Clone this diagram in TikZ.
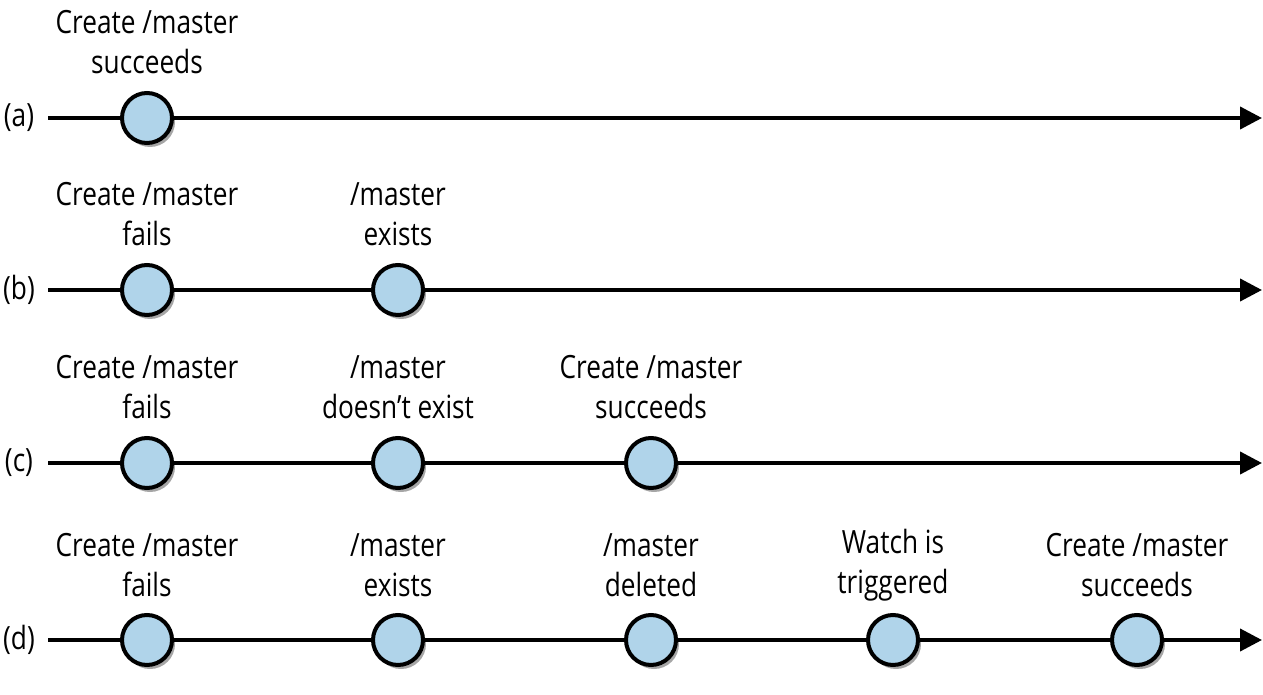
\documentclass[tikz,border=0pt]{standalone}
\usepackage{fontspec}
\setmainfont[FakeStretch=0.82]{Open Sans}
\usetikzlibrary{arrows.meta,shadows}
\definecolor{evfill}{HTML}{B0D4EA}
\tikzset{
  timeline/.style={line width=4pt,-{Triangle[length=22pt,width=22pt]}},
  event/.style={circle,draw=black,line width=4pt,fill=evfill,minimum size=50pt,inner sep=0pt,
    drop shadow={shadow xshift=3pt,shadow yshift=-4pt,opacity=0.35,fill=black}},
  evlabel/.style={align=center,font=\fontsize{32}{40}\selectfont,inner sep=0pt},
  rowlabel/.style={font=\fontsize{32}{40}\selectfont,inner sep=0pt},
}
\begin{document}
\begin{tikzpicture}[x=1pt,y=-1pt]
\useasboundingbox (0,0) rectangle (1263,695);
% rows
\foreach \r/\y in {a/118,b/290,c/463,d/640}{
  \node[rowlabel] (lab\r) at (19,\y) {(\r)};
  \coordinate (s\r) at (48,\y);
  \coordinate (e\r) at (1262,\y);
  \draw[timeline] (s\r) -- (e\r);
}
% row a
\node[event] (a1) at (147,118) {};
\node[evlabel] (ta1) at (147,42) {Create /master\\succeeds};
% row b
\node[event] (b1) at (147,290) {};
\node[event] (b2) at (398,290) {};
\node[evlabel] (tb1) at (147,214) {Create /master\\fails};
\node[evlabel] (tb2) at (398,214) {/master\\exists};
% row c
\node[event] (c1) at (147,463) {};
\node[event] (c2) at (398,463) {};
\node[event] (c3) at (651,463) {};
\node[evlabel] (tc1) at (147,387) {Create /master\\fails};
\node[evlabel] (tc2) at (398,387) {/master\\doesn’t exist};
\node[evlabel] (tc3) at (651,387) {Create /master\\succeeds};
% row d
\node[event] (d1) at (147,640) {};
\node[event] (d2) at (398,640) {};
\node[event] (d3) at (651,640) {};
\node[event] (d4) at (893,640) {};
\node[event] (d5) at (1137,640) {};
\node[evlabel] (td1) at (147,565) {Create /master\\fails};
\node[evlabel] (td2) at (398,565) {/master\\exists};
\node[evlabel] (td3) at (651,565) {/master\\deleted};
\node[evlabel] (td4) at (893,565) {Watch is\\triggered};
\node[evlabel] (td5) at (1137,565) {Create /master\\succeeds};
\end{tikzpicture}
\end{document}
